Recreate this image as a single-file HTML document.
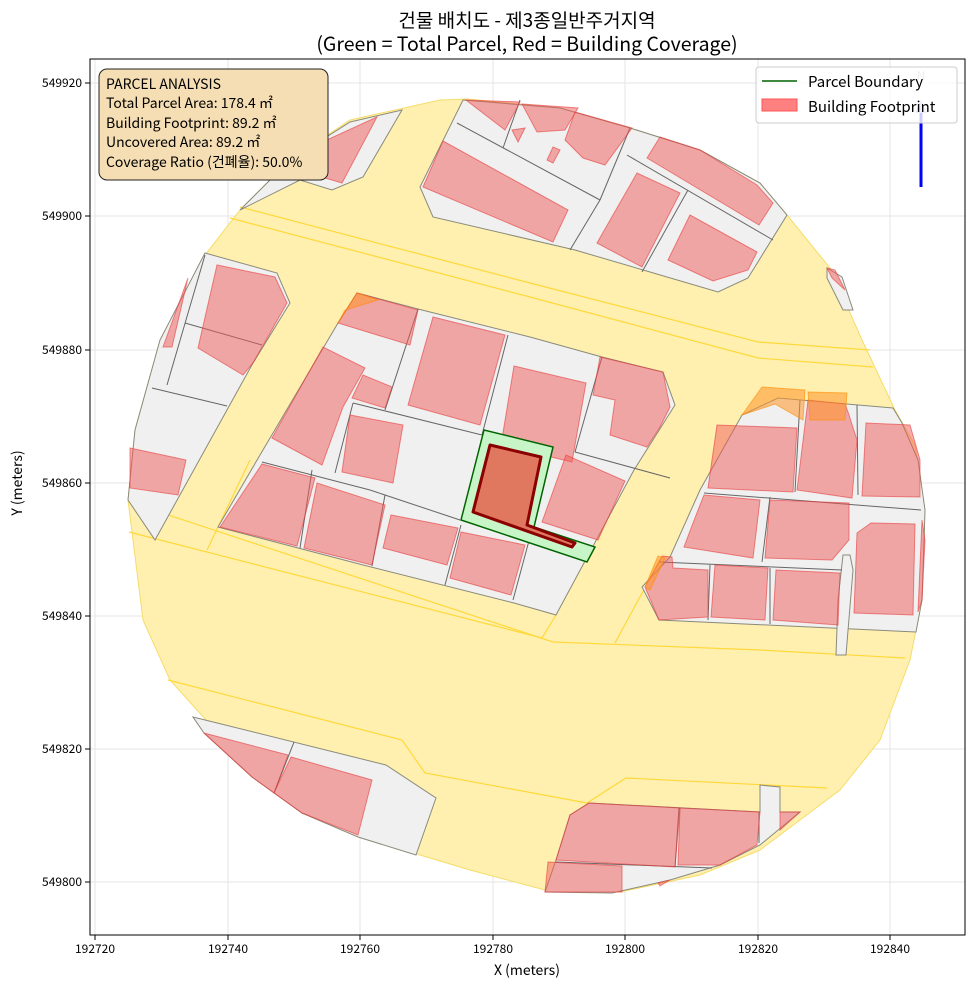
<!DOCTYPE html>
<html><head><meta charset="utf-8"><style>
body{margin:0;background:#fff;}
svg text{font-family:"Noto Sans CJK KR","Liberation Sans",sans-serif;}
</style></head><body>
<svg width="975" height="990" viewBox="0 0 975 990" xmlns="http://www.w3.org/2000/svg">
<rect width="975" height="990" fill="#fff"/>
<text x="527" y="27" font-size="19" text-anchor="middle" fill="#000">건물 배치도 - 제3종일반주거지역</text>
<text x="527" y="51" font-size="19.5" text-anchor="middle" fill="#000">(Green = Total Parcel, Red = Building Coverage)</text>
<defs><clipPath id="c"><rect x="90" y="59" width="875" height="876"/></clipPath></defs>
<g clip-path="url(#c)">
<g stroke="#e6e6e6" stroke-width="1">
<line x1="95" y1="32" x2="95" y2="935"/><line x1="228" y1="32" x2="228" y2="935"/><line x1="360" y1="32" x2="360" y2="935"/><line x1="493" y1="32" x2="493" y2="935"/><line x1="625" y1="32" x2="625" y2="935"/><line x1="758" y1="32" x2="758" y2="935"/><line x1="890" y1="32" x2="890" y2="935"/>
<line x1="90" y1="83" x2="965" y2="83"/><line x1="90" y1="216" x2="965" y2="216"/><line x1="90" y1="350" x2="965" y2="350"/><line x1="90" y1="483" x2="965" y2="483"/><line x1="90" y1="616" x2="965" y2="616"/><line x1="90" y1="749" x2="965" y2="749"/><line x1="90" y1="882" x2="965" y2="882"/>
</g>
<polygon fill="#fff0b0" stroke="#f5dc6a" stroke-width="1" points="440,100 467,99 560,108 630,128 700,150 760,183 787,215 830,268 862,340 895,410 915,445 925,510 922,600 910,660 880,740 840,790 800,820 760,850 700,875 620,892 545,890 470,870 420,855 335,820 260,775 215,730 170,680 143,620 128,500 135,430 160,340 205,255 240,210 290,160 350,120"/>
<g fill="none" stroke="#ffd83a" stroke-width="1.2">
<polyline points="240,207 530,283 758,342 870,350"/>
<polyline points="230,218 530,297 758,358 873,367"/>
<polyline points="129,502 553,642 760,650 905,658"/>
<polyline points="129,532 542,638"/>
<polyline points="154,537 193,470"/><polyline points="207,550 250,460"/>
<polyline points="542,638 556,615"/><polyline points="615,643 660,560"/>
<polyline points="168,680 402,740 425,773 587,803"/>
<polyline points="587,803 626,778 827,788"/>
</g>
<g fill="#f0f0f0" stroke="#8a8a7a" stroke-width="1">
<polygon points="290,160 350,122 402,110 363,177 332,190 300,180 240,210"/>
<polygon points="463,100 560,108 630,128 700,150 760,183 787,215 748,278 718,292 650,272 575,250 433,217 420,187"/>
<polygon points="205,253 277,273 290,303 253,363 155,540 128,500 135,430 160,340"/>
<polygon points="338,323 357,293 418,309 530,337 602,357 663,372 675,405 634,470 556,615 514,603 363,565 218,527 260,455"/>
<polygon points="742,415 778,398 893,408 902,423 918,460 925,510 922,600 916,632 659,620 642,587 670,557 700,490"/>
<polygon points="843,555 850,555 853,570 846,655 836,655 838,600"/>
<polygon points="827,268 842,277 853,310 843,310 827,278"/>
<polygon points="193,717 386,765 436,798 416,855 358,837 302,813 252,777 204,733"/>
<polygon points="570,815 589,803 760,812 760,785 780,787 780,812 800,812 760,845 720,865 670,880 612,893 545,892 556,860"/>
</g>
<g stroke="#666" stroke-width="1" fill="none">
<line x1="457" y1="123" x2="600" y2="200"/><line x1="600" y1="200" x2="570" y2="250"/>
<line x1="520" y1="100" x2="503" y2="148"/><line x1="630" y1="128" x2="600" y2="200"/>
<line x1="627" y1="155" x2="773" y2="240"/><line x1="688" y1="190" x2="642" y2="272"/>
<line x1="205" y1="255" x2="167" y2="385"/><line x1="185" y1="323" x2="262" y2="345"/>
<line x1="152" y1="388" x2="227" y2="406"/>
<line x1="418" y1="309" x2="385" y2="410"/><line x1="353" y1="403" x2="482" y2="435"/>
<line x1="508" y1="335" x2="482" y2="435"/><line x1="353" y1="403" x2="335" y2="473"/>
<line x1="262" y1="462" x2="370" y2="490"/><line x1="370" y1="490" x2="460" y2="520"/>
<line x1="602" y1="357" x2="575" y2="452"/><line x1="575" y1="452" x2="670" y2="478"/>
<line x1="312" y1="470" x2="300" y2="548"/><line x1="385" y1="495" x2="372" y2="566"/>
<line x1="461" y1="525" x2="445" y2="585"/><line x1="530" y1="537" x2="513" y2="600"/>
<line x1="704" y1="493" x2="921" y2="510"/><line x1="659" y1="562" x2="842" y2="570"/>
<line x1="800" y1="400" x2="795" y2="492"/><line x1="857" y1="405" x2="858" y2="495"/>
<line x1="770" y1="497" x2="762" y2="562"/><line x1="710" y1="565" x2="708" y2="620"/>
<line x1="770" y1="568" x2="770" y2="624"/>
<line x1="294" y1="742" x2="274" y2="793"/>
<line x1="679" y1="808" x2="675" y2="867"/><line x1="556" y1="862" x2="712" y2="868"/>
<line x1="759" y1="812" x2="759" y2="843"/>
</g>
<g fill="rgba(240,90,90,0.5)" stroke="rgba(230,60,60,0.6)" stroke-width="1">
<polygon points="305,150 377,117 342,183 325,178"/>
<polygon points="423,187 443,141 568,210 553,242"/>
<polygon points="466,100 520,102 505,130"/>
<polygon points="522,104 578,108 565,130 537,132"/>
<polygon points="512,130 525,128 518,142"/>
<polygon points="553,147 560,150 553,163 547,160"/>
<polygon points="575,112 632,128 605,165 583,158 565,140"/>
<polygon points="647,158 660,137 700,150 757,185 773,203 759,225"/>
<polygon points="597,243 637,173 680,193 642,267"/>
<polygon points="668,260 690,215 757,252 748,270 713,281"/>
<polygon points="198,348 217,265 275,277 287,303 253,363 243,375"/>
<polygon points="163,347 188,278 172,347"/>
<polygon points="130,448 186,460 178,495 130,488"/>
<polygon points="338,323 357,293 418,310 410,345"/>
<polygon points="408,405 433,317 505,335 480,425"/>
<polygon points="272,438 323,347 365,368 343,407 322,465"/>
<polygon points="352,398 363,375 392,387 385,408"/>
<polygon points="342,472 350,415 403,425 393,483"/>
<polygon points="501,445 514,366 586,383 572,462"/>
<polygon points="593,395 600,357 663,372 670,407 660,427 647,447 610,435 615,400"/>
<polygon points="542,522 566,455 625,481 598,540"/>
<polygon points="220,527 262,464 315,478 297,546"/>
<polygon points="304,548 317,483 385,505 372,565"/>
<polygon points="383,548 391,515 458,528 447,565"/>
<polygon points="450,578 461,532 525,545 511,595"/>
<polygon points="708,488 717,425 797,428 793,492"/>
<polygon points="797,490 808,400 845,404 848,412 857,440 852,498"/>
<polygon points="862,496 866,423 910,425 920,460 920,497"/>
<polygon points="684,547 693,523 704,495 760,500 753,558"/>
<polygon points="765,558 770,500 849,503 849,540 832,560"/>
<polygon points="854,613 857,533 871,523 915,524 913,615"/>
<polygon points="918,612 922,520 925,540 922,600"/>
<polygon points="659,620 645,587 662,556 672,557 673,568 708,570 708,617"/>
<polygon points="711,617 715,565 768,568 765,620"/>
<polygon points="773,620 776,570 840,573 838,625"/>
<polygon points="204,733 288,755 274,793 252,777"/>
<polygon points="274,793 291,757 372,780 358,835 302,813"/>
<polygon points="556,860 570,815 589,803 680,808 675,867"/>
<polygon points="680,808 760,812 757,845 720,865 678,865"/>
<polygon points="780,812 800,812 780,830"/>
<polygon points="545,892 548,862 622,866 622,892"/>
<polygon points="658,883 670,880 660,886"/>
<polygon points="827,268 835,270 845,290 832,278"/>
</g>
<g fill="rgba(255,150,40,0.55)" stroke="rgba(255,140,0,0.6)" stroke-width="1">
<polygon points="742,415 762,387 805,390 803,420 775,404"/>
<polygon points="808,392 847,393 845,420 810,420"/>
<polygon points="338,323 357,293 378,300 345,310"/>
<polygon points="645,587 658,556 665,558 650,590"/>
</g>
<polygon points="461,520 484,430 553,447 534,527 595,547 587,562" fill="#c8f5c8" stroke="#006400" stroke-width="1.5"/>
<polygon points="473,512 490,445 541,457 527,525 575,543 572,547" fill="#e07860" stroke="#8b0000" stroke-width="3" stroke-linejoin="round"/>
<line x1="921" y1="187" x2="921" y2="110" stroke="#0000ff" stroke-width="3"/>
<polygon points="921,100 915,113 927,113" fill="#aaf"/>
<text x="921" y="80" font-size="12" fill="#aab" text-anchor="middle">N</text>
</g>
<rect x="90" y="59" width="875" height="876" fill="none" stroke="#000" stroke-width="1"/>
<rect x="99" y="69" width="229" height="111" rx="8" fill="#f5deb3" stroke="#222" stroke-width="1"/>
<g font-size="14" fill="#000">
<text x="106" y="89">PARCEL ANALYSIS</text>
<text x="106" y="108">Total Parcel Area: 178.4 ㎡</text>
<text x="106" y="128">Building Footprint: 89.2 ㎡</text>
<text x="106" y="147">Uncovered Area: 89.2 ㎡</text>
<text x="106" y="167">Coverage Ratio (건폐율): 50.0%</text>
</g>
<rect x="756" y="67" width="201" height="56" rx="3" fill="rgba(255,255,255,0.8)" stroke="#ccc"/>
<line x1="762" y1="81" x2="797" y2="81" stroke="#006400" stroke-width="1.5"/>
<text x="808" y="87" font-size="15">Parcel Boundary</text>
<rect x="762" y="99" width="35" height="12" fill="#ff8080" stroke="#f55"/>
<text x="808" y="112" font-size="15">Building Footprint</text>
<g stroke="#000"><line x1="95" y1="935" x2="95" y2="940"/><line x1="228" y1="935" x2="228" y2="940"/><line x1="360" y1="935" x2="360" y2="940"/><line x1="493" y1="935" x2="493" y2="940"/><line x1="625" y1="935" x2="625" y2="940"/><line x1="758" y1="935" x2="758" y2="940"/><line x1="890" y1="935" x2="890" y2="940"/>
<line x1="85" y1="83" x2="90" y2="83"/><line x1="85" y1="216" x2="90" y2="216"/><line x1="85" y1="350" x2="90" y2="350"/><line x1="85" y1="483" x2="90" y2="483"/><line x1="85" y1="616" x2="90" y2="616"/><line x1="85" y1="749" x2="90" y2="749"/><line x1="85" y1="882" x2="90" y2="882"/></g>
<g font-size="12" text-anchor="middle">
<text x="95" y="953">192720</text><text x="228" y="953">192740</text><text x="360" y="953">192760</text><text x="493" y="953">192780</text><text x="625" y="953">192800</text><text x="758" y="953">192820</text><text x="890" y="953">192840</text></g>
<g font-size="12" text-anchor="end">
<text x="82" y="87">549920</text><text x="82" y="220">549900</text><text x="82" y="354">549880</text><text x="82" y="487">549860</text><text x="82" y="620">549840</text><text x="82" y="753">549820</text><text x="82" y="886">549800</text></g>
<text x="527" y="975" font-size="14" text-anchor="middle">X (meters)</text>
<text x="22" y="483" font-size="14" text-anchor="middle" transform="rotate(-90 22 483)">Y (meters)</text>
</svg>
</body></html>
